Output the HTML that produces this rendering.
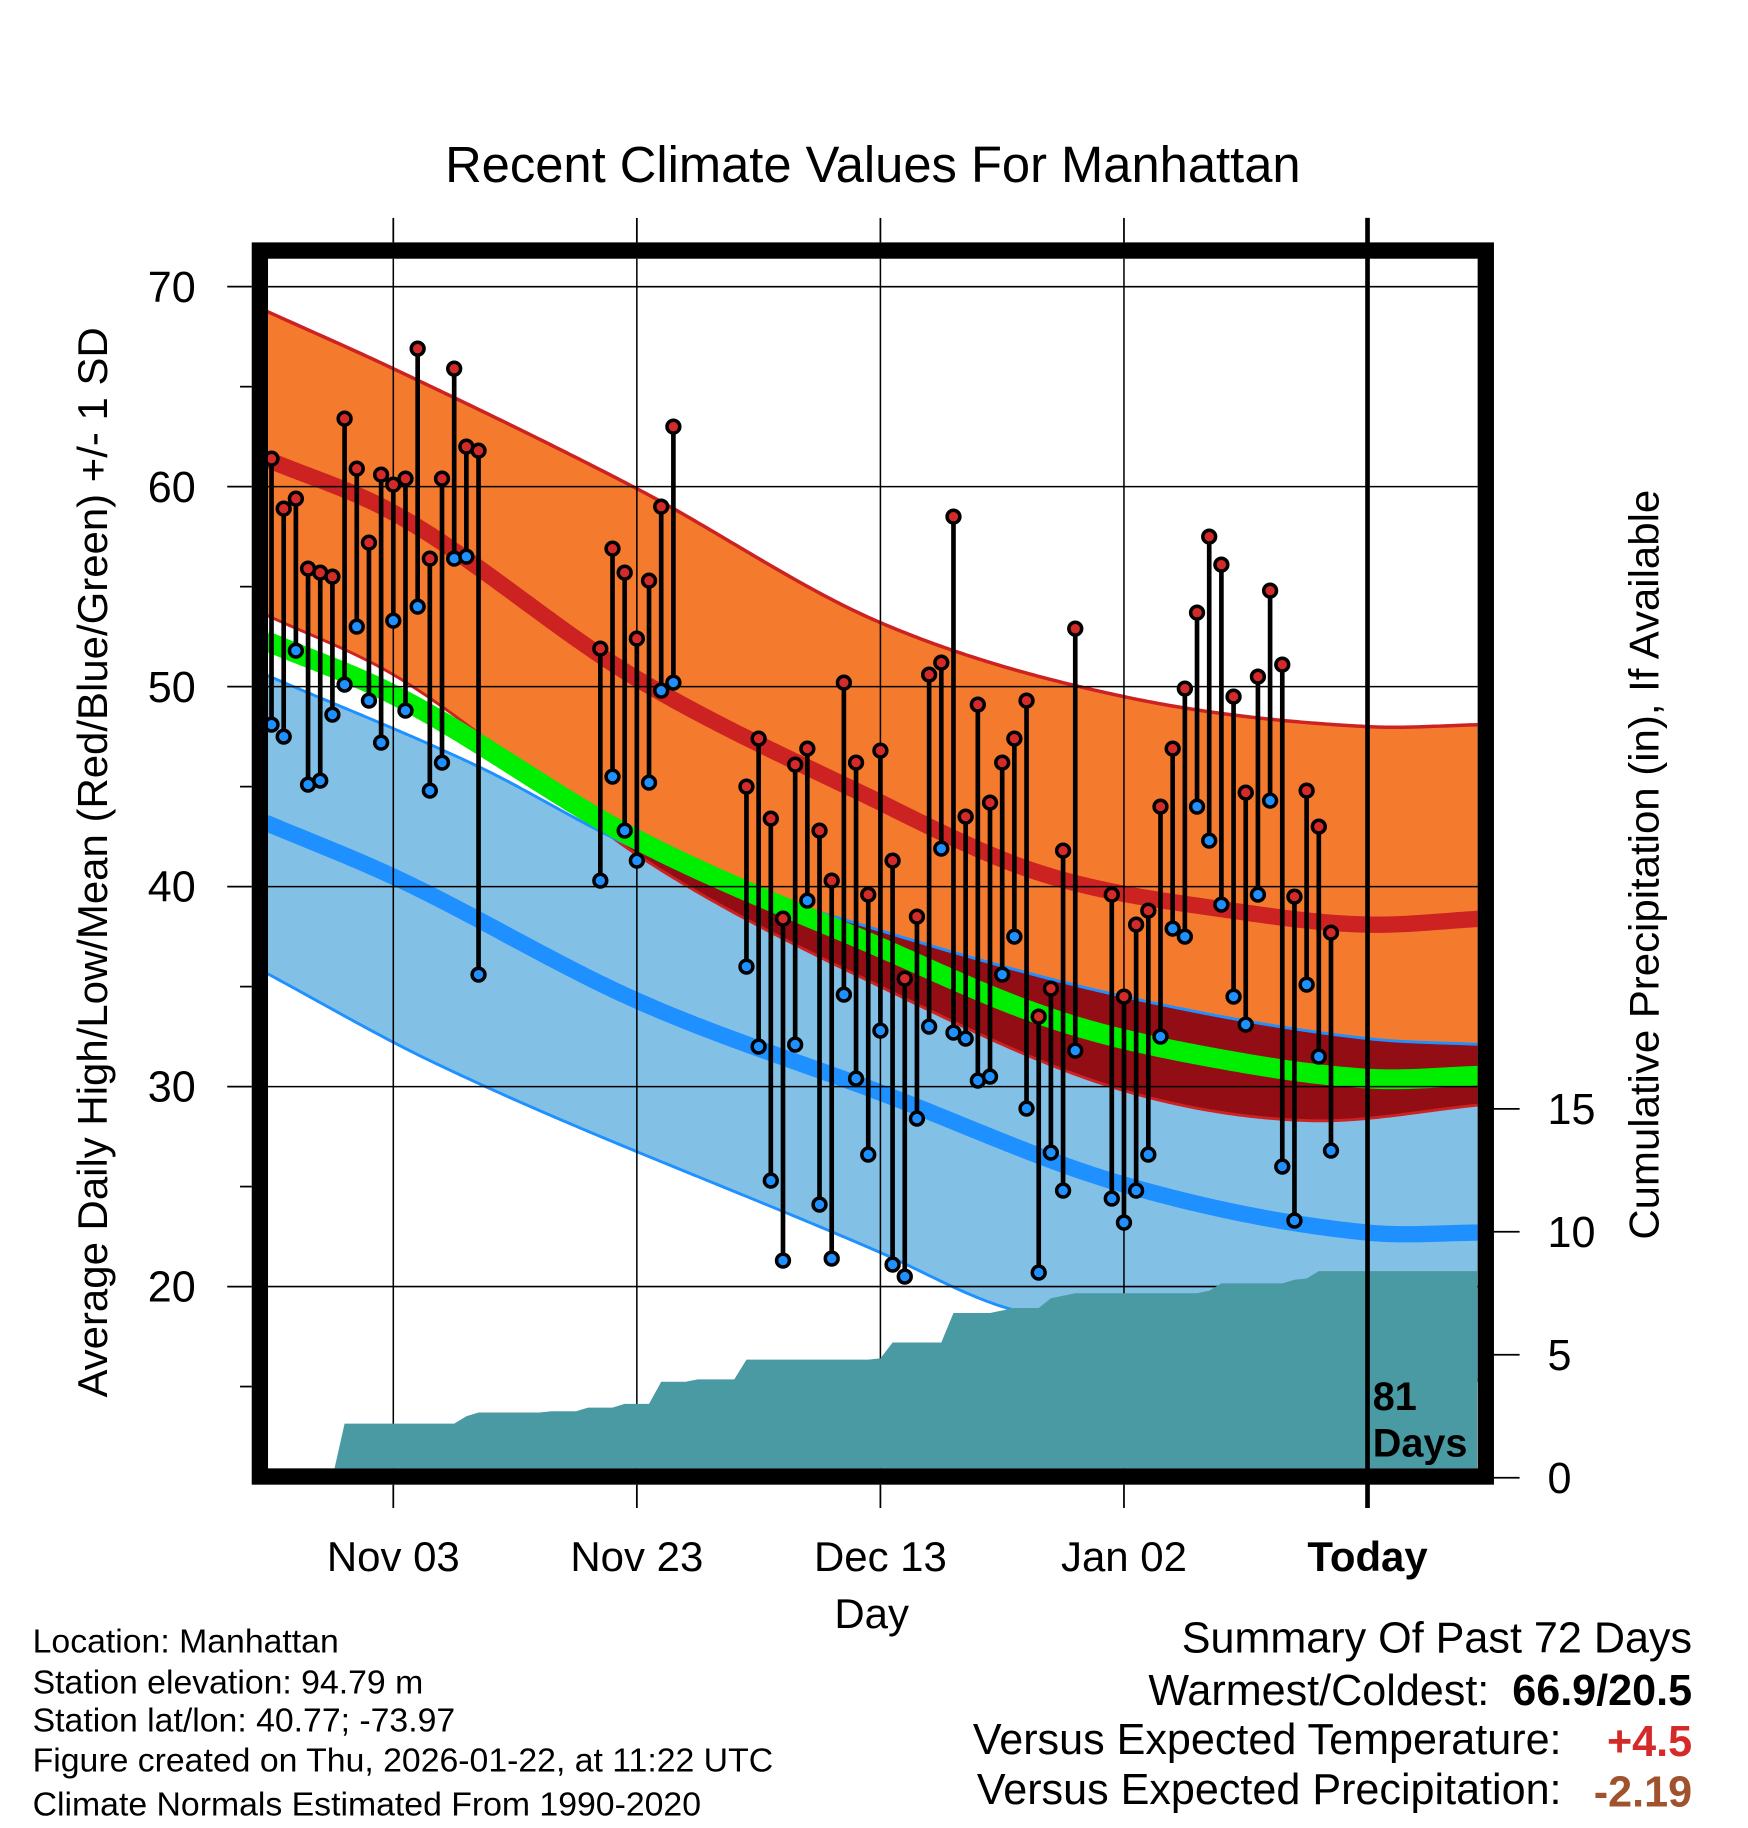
<!DOCTYPE html>
<html><head><meta charset="utf-8"><style>
html,body{margin:0;padding:0;background:#fff}
svg{display:block}
text{font-family:"Liberation Sans",Arial,sans-serif}
</style></head><body>
<svg id="chart" xmlns="http://www.w3.org/2000/svg" width="1748" height="1828" viewBox="0 0 1500 1568.6" preserveAspectRatio="none">
<defs><clipPath id="plotclip"><rect x="230" y="222" width="1038" height="1038"/></clipPath></defs>
<text x="749" y="156" font-size="43.5" text-anchor="middle">Recent Climate Values For Manhattan</text>
<g id="fills" clip-path="url(#plotclip)"></g>
<g id="grid"></g>
<g id="precip" clip-path="url(#plotclip)"></g>
<g id="obs"></g>
<g id="axes"></g>
<text x="1178" y="1210" font-size="34" font-weight="bold">81</text>
<text x="1178" y="1250" font-size="34" font-weight="bold">Days</text>
<text transform="translate(92,740) rotate(-90)" font-size="36" text-anchor="middle">Average Daily High/Low/Mean (Red/Blue/Green) +/- 1 SD</text>
<text transform="translate(1423,742) rotate(-90)" font-size="36" text-anchor="middle">Cumulative Precipitation (in), If Available</text>
<text x="748" y="1397" font-size="36" text-anchor="middle">Day</text>
<g font-size="29">
<text x="28" y="1418">Location: Manhattan</text>
<text x="28" y="1453">Station elevation: 94.79 m</text>
<text x="28" y="1486">Station lat/lon: 40.77; -73.97</text>
<text x="28" y="1520">Figure created on Thu, 2026-01-22, at 11:22 UTC</text>
<text x="28" y="1558">Climate Normals Estimated From 1990-2020</text>
</g>
<g font-size="37">
<text x="1452" y="1418" text-anchor="end">Summary Of Past 72 Days</text>
<text x="1278" y="1463" text-anchor="end">Warmest/Coldest:</text>
<text x="1452" y="1463" text-anchor="end" font-weight="bold">66.9/20.5</text>
<text x="1340" y="1505" text-anchor="end">Versus Expected Temperature:</text>
<text x="1452" y="1507" text-anchor="end" font-weight="bold" fill="#d42a2a">+4.5</text>
<text x="1340" y="1548" text-anchor="end">Versus Expected Precipitation:</text>
<text x="1452" y="1550" text-anchor="end" font-weight="bold" fill="#a0522d">-2.19</text>
</g>
</svg>
<script>
// observation data (day index from Oct 24)
const obsDays = [0,1,2,3,4,5,6,7,8,9,10,11,12,13,14,15,16,17,27,28,29,30,31,32,33,39,40,41,42,43,44,45,46,47,48,49,50,51,52,53,54,55,56,57,58,59,60,61,62,63,64,65,66,69,70,71,72,73,74,75,76,77,78,79,80,81,82,83,84,85,86,87];
const highs = [61.4,58.9,59.4,55.9,55.7,55.5,63.4,60.9,57.2,60.6,60.1,60.4,66.9,56.4,60.4,65.9,62.0,61.8,51.9,56.9,55.7,52.4,55.3,59.0,63.0,45.0,47.4,43.4,38.4,46.1,46.9,42.8,40.3,50.2,46.2,39.6,46.8,41.3,35.4,38.5,50.6,51.2,58.5,43.5,49.1,44.2,46.2,47.4,49.3,33.5,34.9,41.8,52.9,39.6,34.5,38.1,38.8,44.0,46.9,49.9,53.7,57.5,56.1,49.5,44.7,50.5,54.8,51.1,39.5,44.8,43.0,37.7];
const lows = [48.1,47.5,51.8,45.1,45.3,48.6,50.1,53.0,49.3,47.2,53.3,48.8,54.0,44.8,46.2,56.4,56.5,35.6,40.3,45.5,42.8,41.3,45.2,49.8,50.2,36.0,32.0,25.3,21.3,32.1,39.3,24.1,21.4,34.6,30.4,26.6,32.8,21.1,20.5,28.4,33.0,41.9,32.7,32.4,30.3,30.5,35.6,37.5,28.9,20.7,26.7,24.8,31.8,24.4,23.2,24.8,26.6,32.5,37.9,37.5,44.0,42.3,39.1,34.5,33.1,39.6,44.3,26.0,23.3,35.1,31.5,26.8];
// normals (key days and values, F)
const hiMeanDays = [-0.5,10,30,48,63,80,90,99.5];
const hiMeanVals = [61.4,58.7,50.4,44.8,40.7,38.7,38.1,38.4];
const hiTopDays = [-0.5,10,30,50,70,90,99.5];
const hiTopVals = [68.8,65.9,59.9,53.2,49.5,48.0,48.1];
const hiBotDays = [-0.5,10,20,30,50,70,85,99.5];
const hiBotVals = [53.6,50.6,46.3,41.6,35.0,29.8,28.3,29.1];
const loMeanDays = [-0.5,10,30,50,70,90,99.5];
const loMeanVals = [43.2,40.5,34.3,29.7,25.1,22.7,22.7];
const loTopDays = [-0.5,17,30,50,70,90,99.5];
const loTopVals = [50.6,46.0,41.9,37.8,34.5,32.4,32.1];
const loBotDays = [-0.5,13,50,60,90,99.5];
const loBotVals = [35.7,31.3,21.7,19.0,15.6,15.3];
// cumulative precipitation (in) per day index 0..99
const precip = [0,0,0,0,0,0,2.2,2.2,2.2,2.2,2.2,2.2,2.2,2.2,2.2,2.2,2.5,2.65,2.65,2.65,2.65,2.65,2.65,2.7,2.7,2.7,2.85,2.85,2.85,3.0,3.0,3.0,3.9,3.9,3.9,4.0,4.0,4.0,4.0,4.8,4.8,4.8,4.8,4.8,4.8,4.8,4.8,4.8,4.8,4.8,4.85,5.5,5.5,5.5,5.5,5.5,6.7,6.7,6.7,6.7,6.8,6.9,6.9,6.9,7.3,7.4,7.5,7.5,7.5,7.5,7.5,7.5,7.5,7.5,7.5,7.5,7.5,7.6,7.9,7.9,7.9,7.9,7.9,7.9,8.05,8.1,8.4,8.4,8.4,8.4,8.4,8.4,8.4,8.4,8.4,8.4,8.4,8.4,8.4,8.4];
const yTicks = [20,30,40,50,60,70];
const pTicks = [0,5,10,15];
const xTickDays = [10,30,50,70,90];
const xTickLabels = ["Nov 03","Nov 23","Dec 13","Jan 02","Today"];

const NS="http://www.w3.org/2000/svg";
const X = d => 233 + 10.45*d;
const YT = v => 246 + (70 - v)*17.16;
const YP = p => 1268 - p*21.1;
// smooth (Catmull-Rom style Hermite) interpolation
function interp(ds, vs, d){
  const n=ds.length;
  if(d<=ds[0]) return vs[0];
  if(d>=ds[n-1]) return vs[n-1];
  let k=1; while(d>ds[k]) k++;
  const i0=k-1, i1=k;
  const slope=(a,b)=>(vs[b]-vs[a])/(ds[b]-ds[a]);
  const m=i=>{ if(i===0) return slope(0,1); if(i===n-1) return slope(n-2,n-1); return (slope(i-1,i)+slope(i,i+1))/2; };
  const h=ds[i1]-ds[i0], t=(d-ds[i0])/h;
  const t2=t*t, t3=t2*t;
  return (2*t3-3*t2+1)*vs[i0]+(t3-2*t2+t)*h*m(i0)+(-2*t3+3*t2)*vs[i1]+(t3-t2)*h*m(i1);
}
function mk(tag, attrs, parent){ const e=document.createElementNS(NS,tag); for(const k in attrs) e.setAttribute(k,attrs[k]); parent.appendChild(e); return e; }
const samples=[]; for(let d=-0.5; d<=99.5; d+=0.25) samples.push(d);
const f=id=>document.getElementById(id);
const fills=f('fills');
function band(topD,topV,botD,botV,color,name){
  const top=samples.map(d=>X(d)+','+YT(interp(topD,topV,d)));
  const bot=samples.slice().reverse().map(d=>X(d)+','+YT(interp(botD,botV,d)));
  const p=mk('polygon',{points:top.concat(bot).join(' '),fill:color},fills);
  
  
}
band(loTopDays,loTopVals,loBotDays,loBotVals,'#82c0e6','low-sd-band');
band(hiTopDays,hiTopVals,hiBotDays,hiBotVals,'#f47a2e','high-sd-band');
{
  const top=samples.map(d=>X(d)+','+YT(interp(loTopDays,loTopVals,d)));
  const bot=samples.slice().reverse().map(d=>{const a=YT(interp(loTopDays,loTopVals,d)), b=YT(interp(hiBotDays,hiBotVals,d)); return X(d)+','+Math.max(a,b);});
  const p=mk('polygon',{points:top.concat(bot).join(' '),fill:'#930d14'},fills);
  
  
}
function line(ds,vs,color,w,name){
  const pts=samples.map(d=>X(d)+','+YT(interp(ds,vs,d))).join(' ');
  const p=mk('polyline',{points:pts,fill:'none',stroke:color,'stroke-width':w},fills);
  
  
}
line(hiBotDays,hiBotVals,'#cc2222',2.5,'high-minus-sd-line');
line(loTopDays,loTopVals,'#1e90ff',2.5,'low-plus-sd-line');
line(loBotDays,loBotVals,'#1e90ff',2.5,'low-minus-sd-line');
line(hiTopDays,hiTopVals,'#cc2222',3,'high-plus-sd-line');
line(hiMeanDays,hiMeanVals,'#cc2222',14,'normal-high-line');
line(loMeanDays,loMeanVals,'#1e90ff',14,'normal-low-line');
{
  const pts=samples.map(d=>X(d)+','+YT((interp(hiMeanDays,hiMeanVals,d)+interp(loMeanDays,loMeanVals,d))/2)).join(' ');
  const p=mk('polyline',{points:pts,fill:'none',stroke:'#00ee00','stroke-width':17},fills);
  
  
}
const grid=f('grid');
yTicks.forEach(v=>{ const l=mk('line',{x1:230,x2:1268,y1:YT(v),y2:YT(v),stroke:'#000','stroke-width':1.3},grid);
  
   });
xTickDays.forEach(d=>{ const l=mk('line',{x1:X(d),x2:X(d),y1:222,y2:1260,stroke:'#000','stroke-width':1.3},grid);
  
   });
{
  const g=f('precip');
  let pts=[X(0)+',1262'];
  precip.forEach((p,i)=>pts.push(X(i)+','+YP(p)));
  pts.push(X(precip.length-1)+',1262');
  const p=mk('polygon',{points:pts.join(' '),fill:'#4a9aa3'},g);
  
  
}
const obs=f('obs');
obsDays.forEach((d,i)=>{
  const x=X(d);
  const s=mk('line',{x1:x,x2:x,y1:YT(highs[i]),y2:YT(lows[i]),stroke:'#000','stroke-width':4},obs);
  
  
});
obsDays.forEach((d,i)=>{
  const x=X(d);
  const h=mk('circle',{cx:x,cy:YT(highs[i]),r:5.5,fill:'#d42a2a',stroke:'#000','stroke-width':3},obs);
  
  
  const l=mk('circle',{cx:x,cy:YT(lows[i]),r:5.5,fill:'#1e90ff',stroke:'#000','stroke-width':3},obs);
  
  
});
const ax=f('axes');
{
  const t=mk('line',{x1:X(90),x2:X(90),y1:187,y2:1294,stroke:'#000','stroke-width':4},ax);
  
  
  const fr=mk('rect',{x:223,y:215,width:1052,height:1052,fill:'none',stroke:'#000','stroke-width':14},ax);
  
  
}
for(let v=15; v<=70; v+=5){
  const major=v%10===0;
  const l=mk('line',{x1:major?195:206,x2:216,y1:YT(v),y2:YT(v),stroke:'#000','stroke-width':1.5},ax);
  
  
}
yTicks.forEach(v=>{ const t=mk('text',{x:168,y:YT(v)+13,'font-size':37,'text-anchor':'end'},ax); t.textContent=v;
  
   });
pTicks.forEach(p=>{ const l=mk('line',{x1:1282,x2:1304,y1:YP(p),y2:YP(p),stroke:'#000','stroke-width':1.5},ax);
  
  
  const t=mk('text',{x:1328,y:YP(p)+13,'font-size':37},ax); t.textContent=p;
  
   });
xTickDays.forEach((d,i)=>{
  const a=mk('line',{x1:X(d),x2:X(d),y1:187,y2:208,stroke:'#000','stroke-width':1.5},ax);
  
  
  const b=mk('line',{x1:X(d),x2:X(d),y1:1274,y2:1294,stroke:'#000','stroke-width':1.5},ax);
  
  
  const t=mk('text',{x:X(d),y:1348,'font-size':36,'text-anchor':'middle','font-weight':i===4?'bold':'normal'},ax); t.textContent=xTickLabels[i];
  
  
});
</script>
</body></html>
